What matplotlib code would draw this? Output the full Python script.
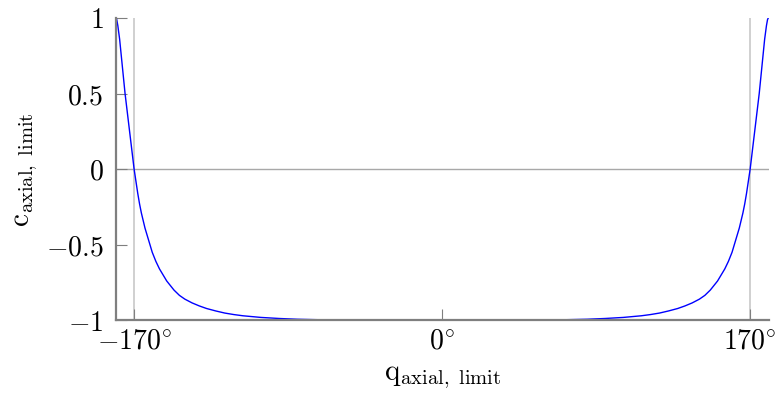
import numpy as np
import matplotlib
matplotlib.use("Agg")
import matplotlib.pyplot as plt

plt.rcParams["mathtext.fontset"] = "cm"
plt.rcParams["font.family"] = ["DejaVu Serif"]

# Angle (deg) and limit coefficient on the positive half; the curve is symmetric
q_half = [0, 45, 65, 80, 90, 100, 110, 115, 120, 125, 130, 134, 138, 142, 145,
          148, 150, 152, 154, 156, 158, 160, 161, 162, 163, 164, 165, 166, 167,
          168, 169, 170, 172, 174, 175, 176.5, 178, 179, 179.6, 180]
c_half = [-1.000, -0.999, -0.997, -0.993, -0.988, -0.981, -0.970, -0.962,
          -0.952, -0.938, -0.922, -0.905, -0.885, -0.860, -0.835, -0.800,
          -0.770, -0.740, -0.700, -0.660, -0.610, -0.550, -0.510, -0.470,
          -0.430, -0.390, -0.340, -0.290, -0.230, -0.160, -0.080, 0.000,
          0.200, 0.400, 0.500, 0.680, 0.860, 0.950, 0.990, 1.000]

q_vals = [-v for v in q_half[:0:-1]] + q_half
c_vals = c_half[:0:-1] + c_half

x_ticks = [-170, 0, 170]
x_tick_labels = [r"$-170^{\circ}$", r"$0^{\circ}$", r"$170^{\circ}$"]
y_ticks = [-1, -0.5, 0, 0.5, 1]
y_tick_labels = [r"$-1$", r"$-0.5$", r"$0$", r"$0.5$", r"$1$"]

fig = plt.figure(figsize=(7.79, 4.05), dpi=100)
ax = fig.add_axes([116 / 779, 84.7 / 405, 653 / 779, 302.3 / 405])

# reference lines
ax.axhline(0, color="#a8a8a8", lw=1.0, zorder=1)
for xv in (-170, 170):
    ax.axvline(xv, color="#c8c8c8", lw=1.2, zorder=1)

ax.plot(q_vals, c_vals, color="#0000ff", lw=1.0, zorder=3)

ax.set_xlim(-180, 180.4)
ax.set_ylim(-1, 1)

for side in ("top", "right"):
    ax.spines[side].set_visible(False)
for side in ("left", "bottom"):
    ax.spines[side].set_color("#7f7f7f")
    ax.spines[side].set_linewidth(1.6)
    ax.spines[side].set_zorder(4)

ax.set_xticks(x_ticks)
ax.set_xticklabels(x_tick_labels)
ax.set_yticks(y_ticks)
ax.set_yticklabels(y_tick_labels)
ax.tick_params(axis="both", direction="in", length=8, width=0.8,
               color="#7f7f7f", labelsize=20)
ax.tick_params(axis="x", pad=5)
ax.tick_params(axis="y", pad=9)

ax.set_xlabel(r"$\mathrm{q}_{\mathrm{axial,\ limit}}$", fontsize=21, labelpad=6)
ax.set_ylabel(r"$\mathrm{c}_{\mathrm{axial,\ limit}}$", fontsize=21, labelpad=4)

fig.savefig("out.png", dpi=100)
